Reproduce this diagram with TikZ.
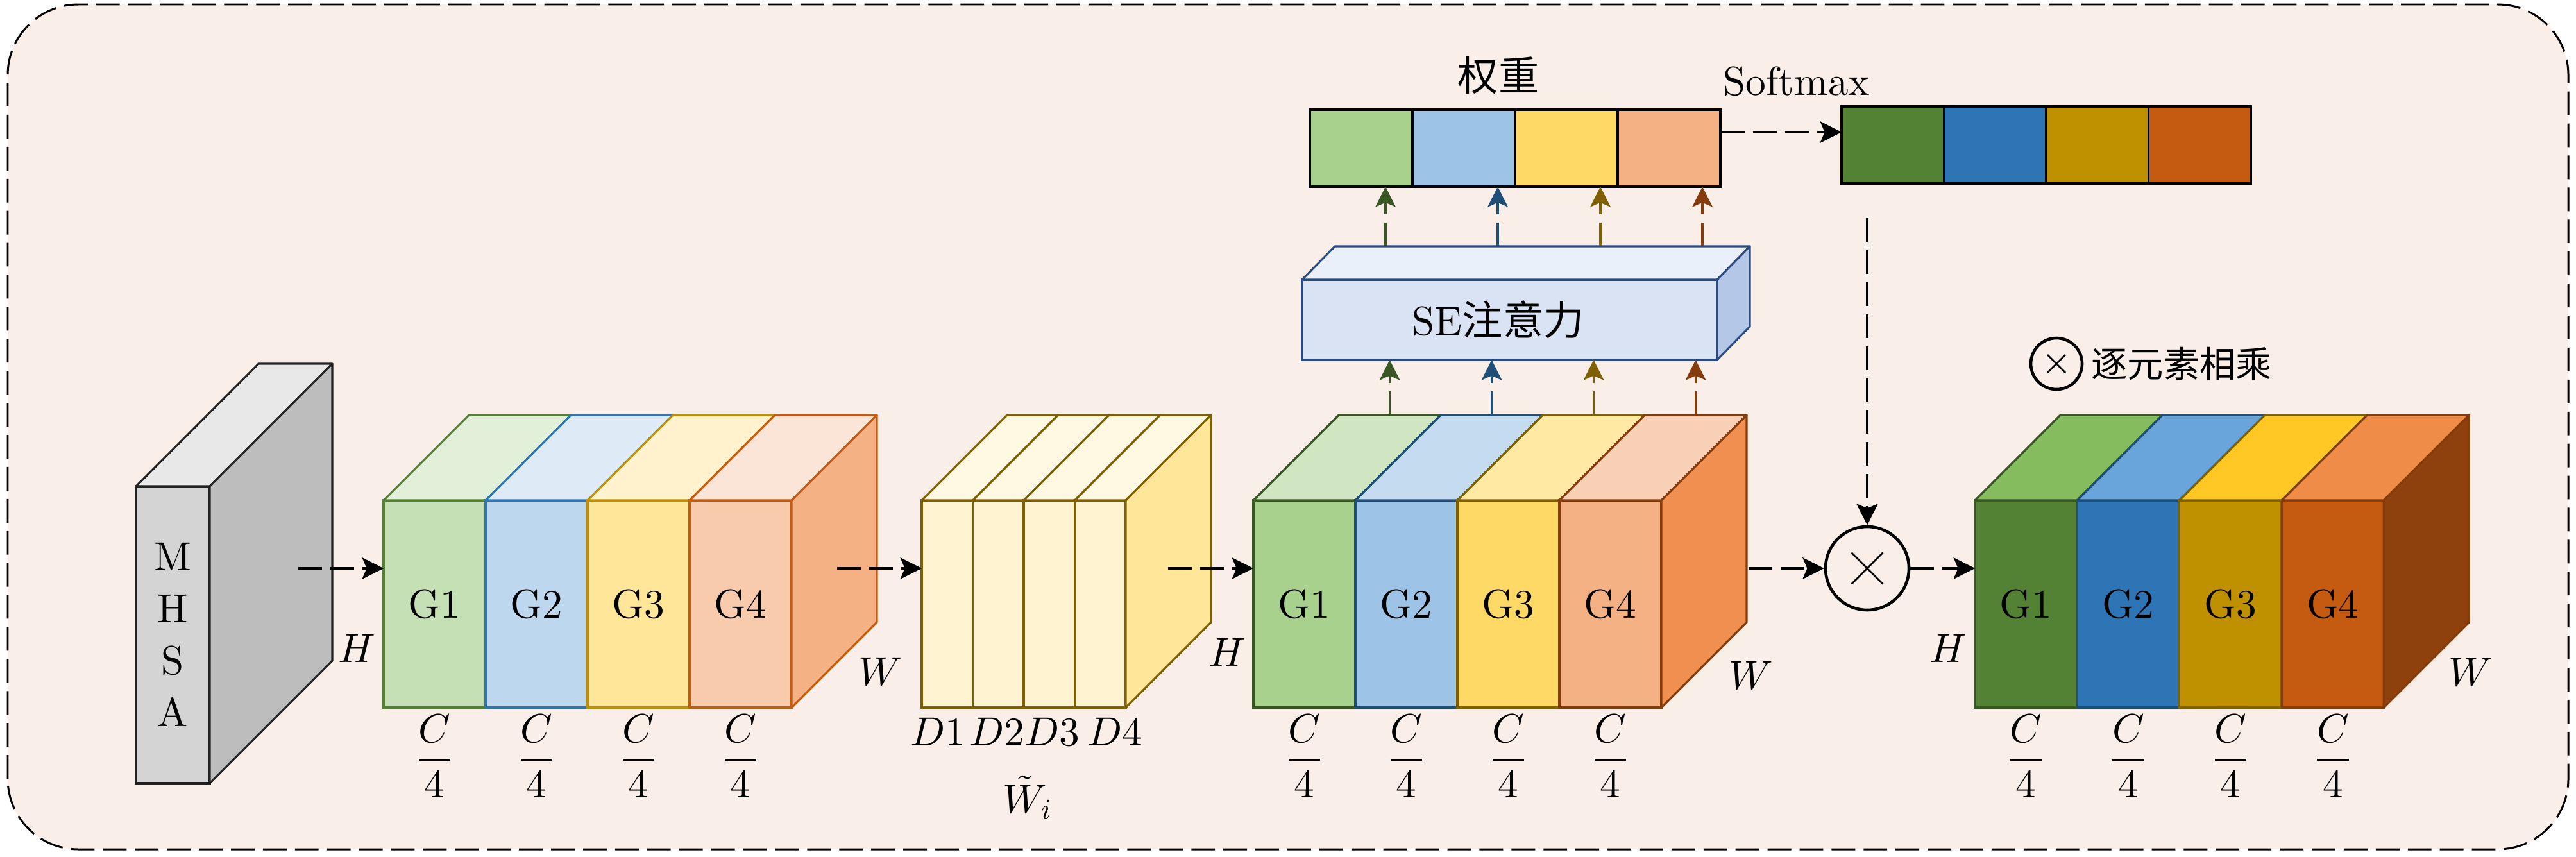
\documentclass[tikz,border=0pt]{standalone}
\usepackage{amsmath}
\usepackage{fontspec}
\setmainfont{lmroman10-regular.otf}[ItalicFont=lmroman10-italic.otf, BoldFont=lmroman10-bold.otf]
\newfontfamily\cjk{Noto Sans CJK SC}
\DeclareFontShape{OML}{cmm}{m}{it}{<-> cmmi10}{}
\DeclareFontShape{OT1}{cmr}{m}{n}{<-> cmr10}{}
\DeclareFontShape{OMS}{cmsy}{m}{n}{<-> cmsy10}{}
\DeclareFontShape{OMX}{cmex}{m}{n}{<-> cmex10}{}
\usetikzlibrary{arrows.meta,positioning}
\newcommand{\figfont}{\fontsize{18}{23}\selectfont}

\definecolor{bgpink}{HTML}{F9EEE8}
\definecolor{grayF}{HTML}{D4D4D4}
\definecolor{grayT}{HTML}{E8E8E8}
\definecolor{grayR}{HTML}{BDBDBD}
\definecolor{grayS}{HTML}{222222}
\definecolor{greenL}{HTML}{C5E0B4}
\definecolor{greenLT}{HTML}{E2F0D9}
\definecolor{greenM}{HTML}{A9D18E}
\definecolor{greenMT}{HTML}{D0E5C2}
\definecolor{greenD}{HTML}{548235}
\definecolor{greenDT}{HTML}{84BC5E}
\definecolor{greenS}{HTML}{385723}
\definecolor{blueL}{HTML}{BDD7EE}
\definecolor{blueLT}{HTML}{DEEBF7}
\definecolor{blueM}{HTML}{9DC3E6}
\definecolor{blueMT}{HTML}{C5DCF0}
\definecolor{blueD}{HTML}{2E75B6}
\definecolor{blueDT}{HTML}{69A5DA}
\definecolor{blueS}{HTML}{1F4E79}
\definecolor{goldL}{HTML}{FFE699}
\definecolor{goldLT}{HTML}{FFF2CC}
\definecolor{goldM}{HTML}{FFD966}
\definecolor{goldMT}{HTML}{FFE9A3}
\definecolor{goldD}{HTML}{BF9000}
\definecolor{goldDT}{HTML}{FFC825}
\definecolor{goldS}{HTML}{7F6000}
\definecolor{orangeL}{HTML}{F8CBAD}
\definecolor{orangeLT}{HTML}{FBE5D6}
\definecolor{orangeM}{HTML}{F4B183}
\definecolor{orangeMT}{HTML}{F9D0B5}
\definecolor{orangeMR}{HTML}{F08F50}
\definecolor{orangeD}{HTML}{C55A11}
\definecolor{orangeDT}{HTML}{EF8C48}
\definecolor{orangeDR}{HTML}{8F410D}
\definecolor{orangeS}{HTML}{843C0C}
\definecolor{creamF}{HTML}{FFF3D2}
\definecolor{creamT}{HTML}{FFF9E3}
\definecolor{seF}{HTML}{DAE3F3}
\definecolor{seT}{HTML}{EAF0FA}
\definecolor{seR}{HTML}{B4C7E7}
\definecolor{seS}{HTML}{2B4B80}

\begin{document}
\begin{tikzpicture}[font=\figfont,
    frontface/.style={inner sep=0pt, outer sep=0pt, anchor=south west, line width=0.9pt, minimum width=1.59cm, minimum height=3.23cm},
    facet/.style={line width=0.9pt, line join=round},
    lab/.style={inner sep=1pt},
    wcell/.style={draw=black, line width=1.1pt, inner sep=0pt, outer sep=0pt, anchor=south west, minimum width=1.6cm, minimum height=1.2cm},
    mulsign/.style={circle, draw, line width=1.3pt, inner sep=0pt},
    flow/.style={line width=1pt, dash pattern=on 10.5pt off 3.7pt, -{Stealth[length=9.5pt, width=9.5pt, inset=2pt]}},
    cflow/.style={flow, -{Stealth[length=9pt, width=9pt, inset=2pt]}}]
    \fill[white] (0,0) rectangle (40.16,13.35);
    \useasboundingbox (0,0) rectangle (40.16,13.35);
    \draw[fill=bgpink, line width=0.85pt, dash pattern=on 10.5pt off 3.7pt, rounded corners=1.1cm] (0.12,0.11) rectangle (40.04,13.28);

    % MHSA
    \node[frontface, minimum width=1.15cm, minimum height=4.63cm, fill=grayF, draw=grayS, align=center] (mhsa) at (2.12,1.14) {M\\H\\S\\A};
    \draw[facet, fill=grayT, draw=grayS] (mhsa.north west) -- ++(1.91,1.91) -- ++(1.15,0) -- (mhsa.north east) -- cycle;
    \draw[facet, fill=grayR, draw=grayS] (mhsa.south east) -- ++(1.91,1.91) -- ++(0,4.63) -- (mhsa.north east) -- cycle;

    % groups G1..G4
    \foreach \i/\fc/\tc/\lc in {1/greenL/greenLT/greenD, 2/blueL/blueLT/blueD, 3/goldL/goldLT/goldD, 4/orangeL/orangeLT/orangeD} {
      \node[frontface, fill=\fc, draw=\lc] (b1g\i) at ({5.98+(\i-1)*1.59},2.32) {G\i};
      \draw[facet, fill=\tc, draw=\lc] (b1g\i.north west) -- ++(1.33,1.33) -- ++(1.59,0) -- (b1g\i.north east) -- cycle;
      \node[lab] (b1c\i) at ({5.98+(\i-0.5)*1.59},1.56) {$\displaystyle\frac{C}{4}$};
    }
    \draw[facet, fill=orangeM, draw=orangeD] (b1g4.south east) -- ++(1.33,1.33) -- ++(0,3.23) -- (b1g4.north east) -- cycle;
    \node[lab] (b1h) at (5.56,3.24) {$H$};
    \node[lab] (b1w) at (13.73,2.88) {$W$};

    % D1..D4
    \foreach \i in {1,...,4} {
      \node[frontface, minimum width=0.795cm, fill=creamF, draw=goldS] (b2d\i) at ({14.37+(\i-1)*0.795},2.32) {};
      \draw[facet, fill=creamT, draw=goldS] (b2d\i.north west) -- ++(1.33,1.33) -- ++(0.795,0) -- (b2d\i.north east) -- cycle;
    }
    \draw[facet, fill=goldL, draw=goldS] (b2d4.south east) -- ++(1.33,1.33) -- ++(0,3.23) -- (b2d4.north east) -- cycle;
    \foreach \i/\x in {1/14.62, 2/15.54, 3/16.40, 4/17.38}
      \node[inner sep=0pt] (b2l\i) at (\x,1.94) {$D\i$};
    \node[lab] (b2w) at (16.02,0.92) {$\tilde{W}_i$};

    % weighted groups
    \foreach \i/\fc/\tc/\lc in {1/greenM/greenMT/greenS, 2/blueM/blueMT/blueS, 3/goldM/goldMT/goldS, 4/orangeM/orangeMT/orangeS} {
      \node[frontface, fill=\fc, draw=\lc] (b3g\i) at ({19.54+(\i-1)*1.59},2.32) {G\i};
      \draw[facet, fill=\tc, draw=\lc] (b3g\i.north west) -- ++(1.33,1.33) -- ++(1.59,0) -- (b3g\i.north east) -- cycle;
      \coordinate (b3t\i) at ([shift={(1.33,1.33)}]b3g\i.north);
      \node[lab] (b3c\i) at ({19.54+(\i-0.5)*1.59},1.56) {$\displaystyle\frac{C}{4}$};
    }
    \draw[facet, fill=orangeMR, draw=orangeS] (b3g4.south east) -- ++(1.33,1.33) -- ++(0,3.23) -- (b3g4.north east) -- cycle;
    \node[lab] (b3h) at (19.13,3.18) {$H$};
    \node[lab] (b3w) at (27.30,2.82) {$W$};

    % output groups
    \foreach \i/\fc/\tc/\lc in {1/greenD/greenDT/greenS, 2/blueD/blueDT/blueS, 3/goldD/goldDT/goldS, 4/orangeD/orangeDT/orangeS} {
      \node[frontface, fill=\fc, draw=\lc] (b4g\i) at ({30.79+(\i-1)*1.594},2.32) {G\i};
      \draw[facet, fill=\tc, draw=\lc] (b4g\i.north west) -- ++(1.33,1.33) -- ++(1.594,0) -- (b4g\i.north east) -- cycle;
      \node[lab] (b4c\i) at ({30.79+(\i-0.5)*1.594},1.56) {$\displaystyle\frac{C}{4}$};
    }
    \draw[facet, fill=orangeDR, draw=orangeS] (b4g4.south east) -- ++(1.33,1.33) -- ++(0,3.23) -- (b4g4.north east) -- cycle;
    \node[lab] (b4h) at (30.37,3.24) {$H$};
    \node[lab] (b4w) at (38.52,2.87) {$W$};

    % SE block
    \node[frontface, minimum width=6.47cm, minimum height=1.25cm, fill=seF, draw=seS] (se) at (20.30,7.74) {SE{\cjk 注意力}\hspace*{0.36cm}};
    \draw[facet, fill=seT, draw=seS] (se.north west) -- ++(0.51,0.52) -- ++(6.47,0) -- (se.north east) -- cycle;
    \draw[facet, fill=seR, draw=seS] (se.south east) -- ++(0.51,0.52) -- ++(0,1.25) -- (se.north east) -- cycle;

    % weights and softmax
    \foreach \i/\c in {1/greenM, 2/blueM, 3/goldM, 4/orangeM}
      \node[wcell, fill=\c] (w\i) at ({20.42+(\i-1)*1.6},10.44) {};
    \foreach \i/\c in {1/greenD, 2/blueD, 3/goldD, 4/orangeD}
      \node[wcell, fill=\c] (s\i) at ({28.71+(\i-1)*1.595},10.49) {};
    \node[lab] (wlab) at (23.36,12.17) {\cjk 权重};
    \node[lab] (slab) at (28.01,12.08) {Softmax};

    % multiply
    \node[mulsign, minimum size=1.30cm] (mul) at (29.11,4.49) {};
    \draw[line width=0.75pt] ([shift={(-0.245,-0.245)}]mul.center) -- ([shift={(0.245,0.245)}]mul.center)
      ([shift={(-0.245,0.245)}]mul.center) -- ([shift={(0.245,-0.245)}]mul.center);
    \node[mulsign, minimum size=0.8cm] (legmul) at (32.06,7.68) {};
    \draw[line width=0.75pt] ([shift={(-0.14,-0.14)}]legmul.center) -- ([shift={(0.14,0.14)}]legmul.center)
      ([shift={(-0.14,0.14)}]legmul.center) -- ([shift={(0.14,-0.14)}]legmul.center);
    \node[right=0pt of legmul, font=\fontsize{16}{19}\selectfont\cjk] (legtxt) {逐元素相乘};

    % arrows
    \coordinate (mhsaout) at (4.65,4.49);
    \coordinate (b1out) at (13.05,4.49);
    \coordinate (b2out) at (18.21,4.49);
    \coordinate (b3out) at (27.26,4.49);
    \coordinate (wout) at (26.83,11.29);
    \coordinate (sout) at (29.11,9.95);
    \draw[flow] (mhsaout) -- (mhsaout -| b1g1.west);
    \draw[flow] (b1out) -- (b1out -| b2d1.west);
    \draw[flow] (b2out) -- (b2out -| b3g1.west);
    \draw[flow] (b3out) -- (mul.west);
    \draw[flow] (mul.east) -- (mul.east -| b4g1.west);
    \draw[flow] (wout) -- (wout -| s1.west);
    \draw[flow] (sout) -- (mul.north);
    \foreach \i/\c in {1/greenS, 2/blueS, 3/goldS, 4/orangeS}
      \draw[cflow, draw=\c] (b3t\i) -- (b3t\i |- se.south);
    \foreach \i/\x/\c in {1/21.60/greenS, 2/23.35/blueS, 3/24.95/goldS, 4/26.54/orangeS} {
      \coordinate (seo\i) at (\x,9.51);
      \draw[cflow, draw=\c] (seo\i) -- (seo\i |- w1.south);
    }
  \end{tikzpicture}
\end{document}
